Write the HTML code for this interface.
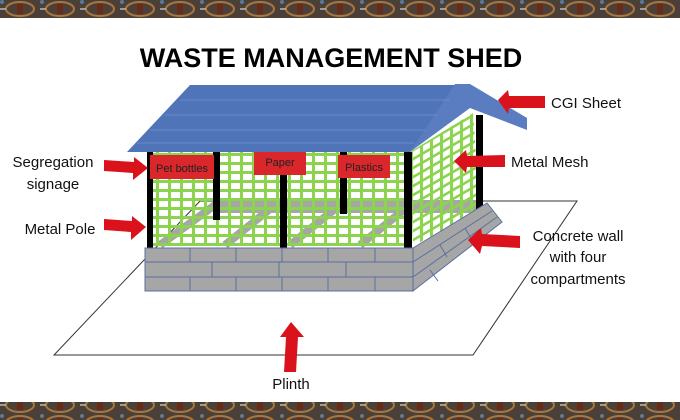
<!DOCTYPE html>
<html><head><meta charset="utf-8"><style>
html,body{margin:0;padding:0;background:#fff}
svg{display:block}
text{font-family:"Liberation Sans",sans-serif}
</style></head><body>
<svg width="680" height="420" viewBox="0 0 680 420" xmlns="http://www.w3.org/2000/svg">
<defs>
<pattern id="bd" width="40" height="18" patternUnits="userSpaceOnUse">
<rect width="40" height="18" fill="#4a4038"/>
<ellipse cx="20" cy="9" rx="14" ry="7" fill="none" stroke="#a8763e" stroke-width="2"/>
<rect x="17" y="4" width="6" height="10" fill="#6a2a1a"/>
<line x1="0" y1="9" x2="6" y2="9" stroke="#bbb" stroke-width="1.5"/>
<circle cx="2" cy="2" r="2" fill="#5b7a98"/>
</pattern>
<pattern id="mesh" width="12" height="9" patternUnits="userSpaceOnUse">
<rect x="0" y="0" width="3" height="9" fill="#8cd44e"/>
<rect x="0" y="0" width="12" height="3" fill="#8cd44e"/>
</pattern>
<pattern id="smesh" width="10" height="9" patternUnits="userSpaceOnUse" patternTransform="skewY(-30)">
<rect x="0" y="0" width="3" height="9" fill="#8cd44e"/>
<rect x="0" y="0" width="10" height="3" fill="#8cd44e"/>
</pattern>
</defs>
<rect x="0" y="0" width="680" height="18" fill="url(#bd)"/>
<rect x="0" y="402" width="680" height="18" fill="url(#bd)"/>
<text x="331" y="67" text-anchor="middle" font-size="27" font-weight="bold" fill="#000">WASTE MANAGEMENT SHED</text>

<!-- plinth -->
<polygon points="54,355 473,355 577,201 200,201" fill="none" stroke="#333" stroke-width="1"/>

<!-- floor gray -->
<rect x="215" y="200" width="265" height="13" fill="#a6a6a6"/>
<g stroke="#a6a6a6" stroke-width="8">
<line x1="160" y1="245" x2="215" y2="205"/><line x1="225" y1="245" x2="275" y2="205"/>
<line x1="290" y1="245" x2="340" y2="205"/><line x1="360" y1="245" x2="410" y2="205"/>
</g>
<!-- side mesh -->
<polygon points="410,152 473,113 480,210 413,246" fill="url(#smesh)"/>
<rect x="476" y="115" width="7" height="100" fill="#000"/>
<!-- front mesh -->
<rect x="148" y="152" width="264" height="94" fill="url(#mesh)"/>
<!-- poles -->
<g fill="#000">
<rect x="147" y="152" width="6" height="96"/>
<rect x="213" y="152" width="7" height="68"/>
<rect x="280" y="152" width="7" height="96"/>
<rect x="340" y="152" width="7" height="62"/>
<rect x="404" y="152" width="8" height="96"/>
</g>
<!-- wall front -->
<rect x="145" y="248" width="268" height="43" fill="#a6a6a6" stroke="#5a6fa0" stroke-width="1"/>
<g stroke="#5a6fa0" stroke-width="1">
<line x1="145" y1="262" x2="413" y2="262"/><line x1="145" y1="277" x2="413" y2="277"/>
<line x1="190" y1="248" x2="190" y2="262"/><line x1="236" y1="248" x2="236" y2="262"/><line x1="282" y1="248" x2="282" y2="262"/><line x1="328" y1="248" x2="328" y2="262"/><line x1="375" y1="248" x2="375" y2="262"/>
<line x1="212" y1="262" x2="212" y2="277"/><line x1="279" y1="262" x2="279" y2="277"/><line x1="346" y1="262" x2="346" y2="277"/>
<line x1="190" y1="277" x2="190" y2="291"/><line x1="236" y1="277" x2="236" y2="291"/><line x1="282" y1="277" x2="282" y2="291"/><line x1="328" y1="277" x2="328" y2="291"/><line x1="375" y1="277" x2="375" y2="291"/>
</g>
<polygon points="413,248 487,203 502,222 413,291" fill="#a6a6a6" stroke="#5a6fa0" stroke-width="1"/>
<g stroke="#5a6fa0" stroke-width="1">
<line x1="413" y1="262" x2="492" y2="211"/><line x1="413" y1="277" x2="497" y2="217"/>
<line x1="440" y1="245" x2="447" y2="257"/><line x1="465" y1="228" x2="472" y2="240"/>
<line x1="430" y1="270" x2="438" y2="281"/>
</g>

<!-- roof -->
<polygon points="190,85 467,85 410,152 127,152" fill="#4f74b8"/>
<polygon points="455,84 470,84 527,118 527,130 470,108 410,152" fill="#5a7cc0"/>
<g stroke="#7c9ad0" stroke-width="1" opacity="0.6">
<line x1="180" y1="100" x2="450" y2="100"/><line x1="165" y1="115" x2="437" y2="115"/><line x1="150" y1="130" x2="425" y2="130"/><line x1="137" y1="143" x2="415" y2="143"/>
</g>

<!-- signs -->
<rect x="150" y="155" width="64" height="24" fill="#d9272b"/>
<text x="182" y="172" text-anchor="middle" font-size="11" fill="#222">Pet bottles</text>
<rect x="254" y="152" width="52" height="23" fill="#d9272b"/>
<text x="280" y="166" text-anchor="middle" font-size="11" fill="#222">Paper</text>
<rect x="338" y="155" width="52" height="23" fill="#d9272b"/>
<text x="364" y="171" text-anchor="middle" font-size="11" fill="#222">Plastics</text>

<!-- arrows -->
<g fill="#d9121b">
<polygon points="498,100 508,90 509,96 545,96 545,108 509,108 508,114"/>
<polygon points="454,161 466,150 467,156 505,155 505,167 467,167 466,173"/>
<polygon points="468,240 481,228 482,234 520,236 520,248 482,246 480,254"/>
<polygon points="148,168 134,157 134,162 104,160 104,171 133,173 133,180"/>
<polygon points="146,227 132,216 132,221 104,219 104,230 131,232 131,240"/>
<polygon points="291,322 280,337 286,337 284,372 296,372 298,337 304,337"/>
</g>

<!-- labels -->
<g font-size="15" fill="#111">
<text x="551" y="108">CGI Sheet</text>
<text x="511" y="167">Metal Mesh</text>
<text x="578" y="241" text-anchor="middle">Concrete wall</text>
<text x="578" y="262" text-anchor="middle">with four</text>
<text x="578" y="284" text-anchor="middle">compartments</text>
<text x="53" y="167" text-anchor="middle">Segregation</text>
<text x="53" y="189" text-anchor="middle">signage</text>
<text x="60" y="234" text-anchor="middle">Metal Pole</text>
<text x="291" y="389" text-anchor="middle">Plinth</text>
</g>
</svg>
</body></html>
